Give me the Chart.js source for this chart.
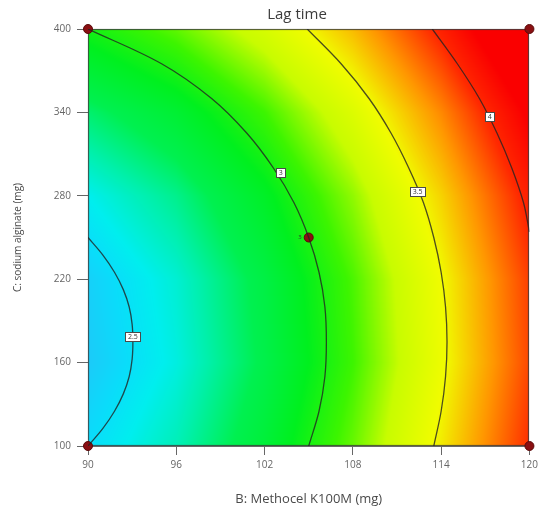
<!DOCTYPE html>
<html>
<head>
<meta charset="utf-8">
<script src="https://cdn.jsdelivr.net/npm/chart.js@4.4.1/dist/chart.umd.min.js"></script>
<style>
  html, body { margin: 0; padding: 0; background: #ffffff; }
  #wrap { width: 542px; height: 510px; }
</style>
</head>
<body>
<div id="wrap"><canvas id="c" width="542" height="510"></canvas></div>
<script>
// Factor levels (tick positions)
const xTicks = [90, 96, 102, 108, 114, 120];      // B: Methocel K100M (mg)
const yTicks = [100, 160, 220, 280, 340, 400];    // C: sodium alginate (mg)

// Predicted lag time at each (B, C) node; rows follow yTicks, columns follow xTicks
const lagRow100 = [2.50, 2.64, 2.86, 3.16, 3.54, 3.99];
const lagRow160 = [2.44, 2.58, 2.80, 3.10, 3.48, 3.93];
const lagRow220 = [2.46, 2.60, 2.82, 3.12, 3.50, 3.95];
const lagRow280 = [2.56, 2.70, 2.92, 3.22, 3.60, 4.05];
const lagRow340 = [2.74, 2.88, 3.10, 3.40, 3.78, 4.23];
const lagRow400 = [3.00, 3.15, 3.37, 3.66, 4.04, 4.49];
const lagGrid = [lagRow100, lagRow160, lagRow220, lagRow280, lagRow340, lagRow400];

// Contour lines of constant lag time: [B, C] pairs
const contourLevels = ['2.5', '3', '3.5', '4'];
const contour25 = [[90, 250], [91.0, 237.5], [91.8, 225], [92.4, 212.5], [92.8, 200], [93.0, 187.5],
                   [93.05, 175], [93.0, 162.5], [92.8, 150], [92.4, 137.5], [91.8, 125], [91.0, 112.5], [90, 100]];
const contour3  = [[90, 400], [95.0, 375], [98.4, 350], [100.8, 325], [102.6, 300], [104.0, 275],
                   [105.0, 250], [105.7, 225], [106.1, 200], [106.2, 175], [106.1, 150], [105.7, 125], [105.0, 100]];
const contour35 = [[104.9, 400], [107.2, 375], [109.1, 350], [110.6, 325], [111.8, 300], [112.8, 275],
                   [113.5, 250], [114.0, 225], [114.3, 200], [114.4, 175], [114.3, 150], [114.0, 125], [113.5, 100]];
const contour4  = [[113.4, 400], [115.1, 375], [116.6, 350], [117.8, 325], [118.8, 300], [119.6, 275],
                   [120, 254]];
const contourLines = [contour25, contour3, contour35, contour4];

// Where each level tag sits on its line
const tagB = [93.05, 103.1, 112.4, 117.3];
const tagC = [178.6, 296.5, 283.0, 336.8];

// Design points and the replicate count at the centre point
const designB = [90, 90, 120, 120, 105];
const designC = [100, 400, 100, 400, 250];
const centreReplicates = '3';

// Colour ramp for the response field
const rampValues = [2.4, 2.5, 2.56, 2.66, 2.78, 2.95, 3.1, 3.3, 3.5, 3.75, 4.0, 4.2];
const rampColours = [[40, 190, 248], [10, 220, 250], [0, 238, 238], [0, 240, 170], [0, 240, 80],
                     [0, 240, 30], [60, 245, 0], [200, 252, 0], [240, 252, 0], [255, 150, 0],
                     [255, 40, 0], [250, 0, 0]];

const FONT = "'Open Sans', 'DejaVu Sans', sans-serif";

function lagAt(b, c) {
  let i = 0;
  while (i < xTicks.length - 2 && b > xTicks[i + 1]) i++;
  let j = 0;
  while (j < yTicks.length - 2 && c > yTicks[j + 1]) j++;
  const tx = Math.min(1, Math.max(0, (b - xTicks[i]) / (xTicks[i + 1] - xTicks[i])));
  const ty = Math.min(1, Math.max(0, (c - yTicks[j]) / (yTicks[j + 1] - yTicks[j])));
  const a = lagGrid[j][i], bb = lagGrid[j][i + 1], cc = lagGrid[j + 1][i], d = lagGrid[j + 1][i + 1];
  return a * (1 - tx) * (1 - ty) + bb * tx * (1 - ty) + cc * (1 - tx) * ty + d * tx * ty;
}

function rampColour(v) {
  if (v <= rampValues[0]) return rampColours[0];
  const n = rampValues.length;
  if (v >= rampValues[n - 1]) return rampColours[n - 1];
  let k = 0;
  while (v > rampValues[k + 1]) k++;
  const t = (v - rampValues[k]) / (rampValues[k + 1] - rampValues[k]);
  const c0 = rampColours[k], c1 = rampColours[k + 1];
  return [c0[0] + (c1[0] - c0[0]) * t, c0[1] + (c1[1] - c0[1]) * t, c0[2] + (c1[2] - c0[2]) * t];
}

// Paints the shaded response surface under the contour lines
const fieldPlugin = {
  id: 'field',
  beforeDatasetsDraw(chart) {
    const { ctx, chartArea: a, scales: { x, y } } = chart;
    const w = Math.round(a.right - a.left), h = Math.round(a.bottom - a.top);
    const off = document.createElement('canvas');
    off.width = w; off.height = h;
    const octx = off.getContext('2d');
    const img = octx.createImageData(w, h);
    for (let j = 0; j < h; j++) {
      const cv = y.getValueForPixel(a.top + j + 0.5);
      for (let i = 0; i < w; i++) {
        const bv = x.getValueForPixel(a.left + i + 0.5);
        const col = rampColour(lagAt(bv, cv));
        const p = (j * w + i) * 4;
        img.data[p] = col[0]; img.data[p + 1] = col[1]; img.data[p + 2] = col[2]; img.data[p + 3] = 255;
      }
    }
    octx.putImageData(img, 0, 0);
    ctx.save();
    ctx.drawImage(off, a.left, a.top);
    ctx.strokeStyle = 'rgba(60,60,60,0.8)';
    ctx.lineWidth = 1.2;
    ctx.strokeRect(a.left + 0.5, a.top + 0.5, w - 1, h - 1);
    ctx.restore();
  },
  afterDatasetsDraw(chart) {
    const { ctx, scales: { x, y } } = chart;
    ctx.save();
    ctx.font = `7px ${FONT}`;
    ctx.textAlign = 'center';
    ctx.textBaseline = 'middle';
    contourLevels.forEach((lvl, k) => {
      const px = x.getPixelForValue(tagB[k]);
      const py = y.getPixelForValue(tagC[k]);
      const tw = ctx.measureText(lvl).width + 5;
      const th = 9;
      ctx.fillStyle = '#ffffff';
      ctx.fillRect(px - tw / 2, py - th / 2, tw, th);
      ctx.strokeStyle = '#4a4a4a';
      ctx.lineWidth = 1;
      ctx.strokeRect(Math.round(px - tw / 2) + 0.5, Math.round(py - th / 2) + 0.5, Math.round(tw), th);
      ctx.fillStyle = '#333333';
      ctx.fillText(lvl, px, py + 0.5);
    });
    // replicate count beside the centre point
    ctx.font = `6px ${FONT}`;
    ctx.textAlign = 'right';
    ctx.fillStyle = '#333333';
    ctx.fillText(centreReplicates, x.getPixelForValue(designB[4]) - 7, y.getPixelForValue(designC[4]));
    ctx.restore();
  },
  afterDraw(chart) {
    const { ctx } = chart;
    ctx.save();
    ctx.font = `15px ${FONT}`;
    ctx.fillStyle = '#3c3c3c';
    ctx.textAlign = 'center';
    ctx.textBaseline = 'middle';
    ctx.fillText('Lag time', 297, 15);
    ctx.restore();
  }
};

const lineDatasets = contourLines.map((pts, k) => ({
  label: contourLevels[k],
  data: pts.map(p => ({ x: p[0], y: p[1] })),
  showLine: true,
  borderColor: 'rgba(35,35,35,0.8)',
  borderWidth: 1.3,
  pointRadius: 0,
  tension: 0.35,
  fill: false
}));

const pointDataset = {
  label: 'Design points',
  data: designB.map((b, i) => ({ x: b, y: designC[i] })),
  pointRadius: 4.5,
  pointBackgroundColor: '#8a0f12',
  pointBorderColor: '#5a0a0a',
  pointBorderWidth: 1,
  showLine: false,
  clip: false
};

new Chart(document.getElementById('c'), {
  type: 'scatter',
  data: { datasets: [...lineDatasets, pointDataset] },
  options: {
    responsive: false,
    animation: false,
    devicePixelRatio: 1,
    layout: { padding: { top: 29, right: 11, bottom: 0, left: 0 } },
    plugins: { legend: { display: false }, tooltip: { enabled: false }, title: { display: false } },
    scales: {
      x: {
        type: 'linear', min: 90, max: 120,
        afterBuildTicks: s => { s.ticks = xTicks.map(v => ({ value: v })); },
        afterFit: s => { s.height = 64; },
        ticks: { color: '#666666', font: { size: 10, family: FONT }, padding: 4, maxRotation: 0 },
        grid: { drawOnChartArea: false, drawTicks: true, tickLength: 9, color: '#666666' },
        border: { display: true, color: 'rgba(60,60,60,0.75)' },
        title: { display: true, text: 'B: Methocel K100M (mg)', color: '#4a4a4a',
                 font: { size: 13, family: FONT }, padding: { top: 0, bottom: 3 } }
      },
      y: {
        type: 'linear', min: 100, max: 400,
        afterBuildTicks: s => { s.ticks = yTicks.map(v => ({ value: v })); },
        afterFit: s => { s.width = 88; },
        ticks: { color: '#666666', font: { size: 10, family: FONT }, padding: 6 },
        grid: { drawOnChartArea: false, drawTicks: true, tickLength: 11, color: '#666666' },
        border: { display: true, color: 'rgba(60,60,60,0.75)' },
        title: { display: true, text: 'C: sodium alginate (mg)', color: '#4a4a4a',
                 font: { size: 10, family: FONT }, padding: { top: 12, bottom: 0 } }
      }
    }
  },
  plugins: [fieldPlugin]
});
</script>
</body>
</html>
